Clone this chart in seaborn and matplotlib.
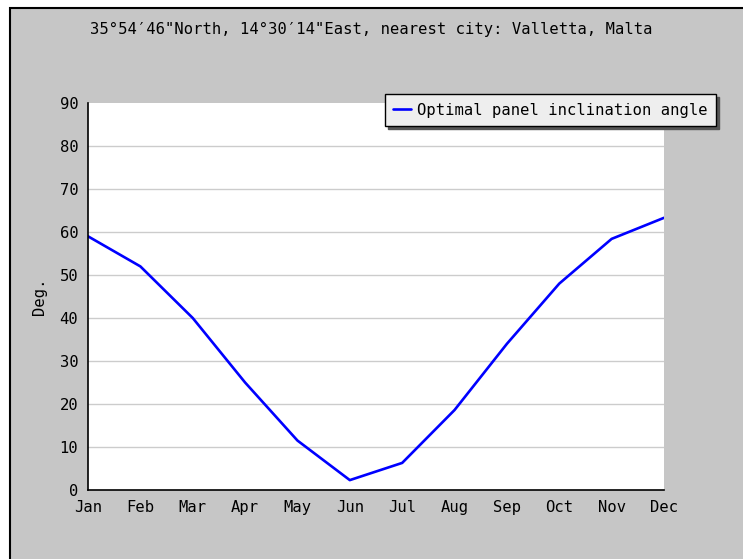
import numpy as np
import pandas as pd
import matplotlib
matplotlib.use("Agg")
import matplotlib.pyplot as plt
import matplotlib.patches as mpatches
import seaborn as sns

months = ["Jan", "Feb", "Mar", "Apr", "May", "Jun", "Jul", "Aug", "Sep", "Oct", "Nov", "Dec"]
angle = [59.0, 52.0, 40.0, 25.0, 11.5, 2.3, 6.3, 18.6, 34.0, 48.0, 58.4, 63.3]
y_ticks = [0, 10, 20, 30, 40, 50, 60, 70, 80, 90]
title = "35°54′46\"North, 14°30′14\"East, nearest city: Valletta, Malta"
series_name = "Optimal panel inclination angle"

df = pd.DataFrame({"idx": np.arange(len(months)), "angle": angle})

sns.set_style("white")
plt.rcParams["font.family"] = ["DejaVu Sans Mono", "DejaVu Sans"]
plt.rcParams["text.color"] = "black"
fs = 11.2

W, H = 743, 559
fig = plt.figure(figsize=(W / 100, H / 100), dpi=100)
fig.patch.set_facecolor("white")

# gray panel with black border
bg = mpatches.Rectangle((10 / W, -0.02), 1.0, 1 - 8 / H + 0.02, transform=fig.transFigure,
                        facecolor="#c6c6c6", edgecolor="black", linewidth=1.5, zorder=-10)
fig.patches.append(bg)

ax = fig.add_axes([88 / W, 1 - 490 / H, (664 - 88) / W, (490 - 103) / H])
ax.set_zorder(5)
ax.set_facecolor("white")

sns.lineplot(data=df, x="idx", y="angle", color="#0000ff", linewidth=1.9, ax=ax,
             label=series_name)

ax.set_xlim(0, len(months) - 1)
ax.set_ylim(0, 90)
ax.set_xticks(np.arange(len(months)))
ax.set_xticklabels(months)
ax.set_yticks(y_ticks)
ax.set_xlabel("")
ax.set_ylabel("Deg.", fontsize=fs, color="black")
ax.yaxis.set_label_coords(-0.071, 0.5)

for g in y_ticks[1:-1]:
    ax.axhline(g, color="#cccccc", linewidth=1, zorder=0)

ax.tick_params(axis="both", direction="in", length=6, width=1, colors="black",
               labelsize=fs)
ax.tick_params(axis="y", pad=7)
ax.tick_params(axis="x", pad=7)
for s in ["top", "right"]:
    ax.spines[s].set_visible(False)
for s in ["left", "bottom"]:
    ax.spines[s].set_color("black")
    ax.spines[s].set_linewidth(1.2)

leg = ax.legend(loc="upper right", bbox_to_anchor=(716 / W, 1 - 94 / H),
                bbox_transform=fig.transFigure, frameon=True, fancybox=False,
                shadow={"color": "#555555", "alpha": 1.0}, fontsize=fs,
                handlelength=1.1, handletextpad=0.4, borderpad=0.55, borderaxespad=0)
leg.get_frame().set_facecolor("#eeeeee")
leg.get_frame().set_edgecolor("black")
leg.get_frame().set_linewidth(1.0)
leg.get_frame().set_alpha(1.0)

fig.text(0.5, 1 - 29 / H, title, ha="center", va="center", fontsize=fs, color="black")

fig.savefig("out.png", dpi=100, facecolor=fig.get_facecolor())
